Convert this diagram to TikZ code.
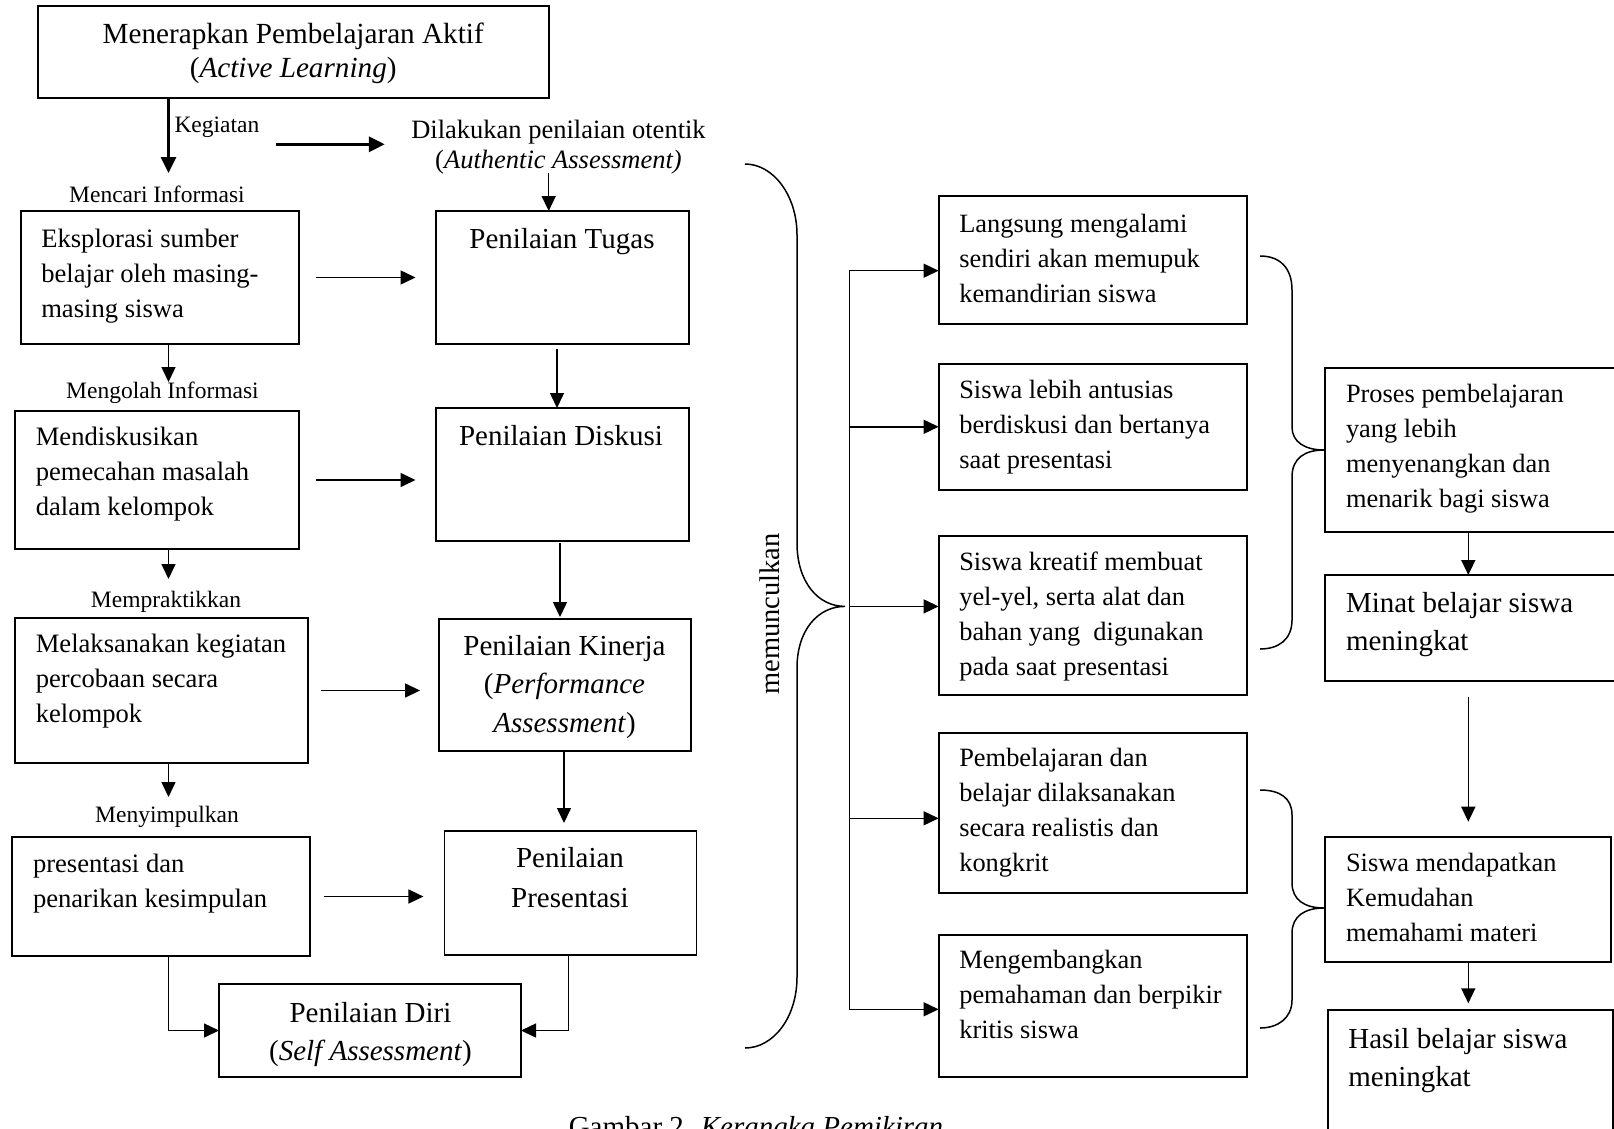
\documentclass[tikz,border=0pt]{standalone}
\usepackage{fontspec}
\setmainfont{Liberation Serif}
\usetikzlibrary{arrows.meta}
\newcommand{\Lt}[1]{\begin{tabular}[t]{@{}l@{}}#1\end{tabular}}
\newcommand{\Ct}[1]{\begin{tabular}[t]{@{}c@{}}#1\end{tabular}}
\newcommand{\fsz}[2]{\fontsize{#1}{#2}\selectfont}
\tikzset{
  box/.style={draw, line width=1.9pt, rectangle, inner sep=0pt, outer sep=0pt},
  txt/.style={inner sep=0pt, outer sep=0pt},
  arr/.style={line width=1.5pt, -{Triangle[length=15pt,width=14pt]}},
  thickarr/.style={line width=3.2pt, -{Triangle[length=16pt,width=15pt]}},
  bracestyle/.style={line width=1.5pt},
  lbl/.style={txt, anchor=base, font=\fsz{23.5}{28}},
  lefttxt/.style={txt, anchor=base west, font=\fsz{26.6}{35}},
  pentxt/.style={txt, anchor=base, font=\fsz{29}{38.5}},
  righttxt/.style={txt, anchor=base west, font=\fsz{26.4}{35}},
  bigtxt/.style={txt, anchor=base west, font=\fsz{29}{38}}
}
\begin{document}
\begin{tikzpicture}[x=1pt,y=-1pt]
\useasboundingbox (0,0) rectangle (1614,1128);
\fill[white] (0,0) rectangle (1614,1128);
\clip (0,0) rectangle (1614,1128);

% ---------- boxes ----------
\node[box, minimum width=511pt, minimum height=92pt] (top) at (293.2,52) {};
\node[box, minimum width=278.7pt, minimum height=133pt] (eks) at (160,277.5) {};
\node[box, minimum width=253pt, minimum height=133pt] (tugas) at (562.5,277.5) {};
\node[box, minimum width=284.7pt, minimum height=138pt] (mend) at (157,480) {};
\node[box, minimum width=253pt, minimum height=133pt] (disk) at (562.5,474.5) {};
\node[box, minimum width=292.9pt, minimum height=145pt] (mel) at (161.2,690.5) {};
\node[box, minimum width=252.5pt, minimum height=132pt] (kin) at (564.8,685) {};
\node[box, minimum width=297.6pt, minimum height=119pt] (pres) at (161.2,896.5) {};
\node[box, minimum width=252pt, minimum height=124pt] (penpres) at (570.5,893) {};
\node[box, minimum width=302pt, minimum height=93pt] (diri) at (370,1030.5) {};

\node[box, minimum width=308.2pt, minimum height=128.3pt] (lang) at (1092.7,259.85) {};
\node[box, minimum width=308.2pt, minimum height=126.4pt] (lebih) at (1092.7,426.8) {};
\node[box, minimum width=308.2pt, minimum height=158.9pt] (kreatif) at (1092.7,615.15) {};
\node[box, minimum width=308.2pt, minimum height=160pt] (pemb) at (1092.7,813.3) {};
\node[box, minimum width=308.2pt, minimum height=141.7pt] (meng) at (1092.7,1005.85) {};

\node[box, minimum width=315pt, minimum height=164pt] (proses) at (1482.5,449.7) {};
\node[box, minimum width=315pt, minimum height=105.7pt] (minat) at (1482.5,627.85) {};
\node[box, minimum width=286pt, minimum height=125pt] (mudah) at (1468,899.2) {};
\node[box, minimum width=285.6pt, minimum height=150pt] (hasil) at (1470.5,1085) {};

% ---------- texts ----------
\node[txt, anchor=base, font=\fsz{29.2}{34}] (toptxt) at (293.2,43)
  {\Ct{Menerapkan Pembelajaran Aktif\\(\textit{Active Learning})}};
\node[lbl, anchor=base west] (keg) at (174.5,132) {Kegiatan};
\node[txt, anchor=base, font=\fsz{26.5}{30}] (dil) at (558.5,138)
  {\Ct{Dilakukan penilaian otentik\\(\textit{Authentic Assessment)}}};
\node[lbl] (l1) at (157,202) {Mencari Informasi};
\node[lbl] (l2) at (162.5,398) {Mengolah Informasi};
\node[lbl] (l3) at (166,607) {Mempraktikkan};
\node[lbl] (l4) at (167,822) {Menyimpulkan};

\node[lefttxt] (ekst) at (41.3,247) {\Lt{Eksplorasi sumber\\belajar oleh masing-\\masing siswa}};
\node[lefttxt] (mendt) at (35.8,445) {\Lt{Mendiskusikan\\pemecahan masalah\\dalam kelompok}};
\node[lefttxt] (melt) at (35.8,652) {\Lt{Melaksanakan kegiatan\\percobaan secara\\kelompok}};
\node[lefttxt] (prest) at (33,872) {\Lt{presentasi dan\\penarikan kesimpulan}};

\node[pentxt] (tugast) at (562,248) {Penilaian Tugas};
\node[pentxt] (diskt) at (561,445) {Penilaian Diskusi};
\node[pentxt] (kint) at (564.5,655) {\Ct{Penilaian Kinerja\\(\textit{Performance}\\\textit{Assessment})}};
\node[txt, anchor=base, font=\fsz{29}{40}] (penprest) at (570,867) {\Ct{Penilaian\\Presentasi}};
\node[txt, anchor=base, font=\fsz{29}{38}] (dirit) at (370.5,1022) {\Ct{Penilaian Diri\\(\textit{Self Assessment})}};

\node[txt, rotate=90, anchor=base, font=\fsz{28.5}{30}] (mun) at (779,614) {memunculkan};

\node[righttxt] (langt) at (959.3,232) {\Lt{Langsung mengalami\\sendiri akan memupuk\\kemandirian siswa}};
\node[righttxt] (lebiht) at (959.3,398) {\Lt{Siswa lebih antusias\\berdiskusi dan bertanya\\saat presentasi}};
\node[righttxt] (kreatift) at (959.3,570) {\Lt{Siswa kreatif membuat\\yel-yel, serta alat dan\\bahan yang\ \ digunakan\\pada saat presentasi}};
\node[righttxt] (pembt) at (959.3,766.7) {\Lt{Pembelajaran dan\\belajar dilaksanakan\\secara realistis dan\\kongkrit}};
\node[righttxt] (mengt) at (959.3,968.3) {\Lt{Mengembangkan\\pemahaman dan berpikir\\kritis siswa}};

\node[righttxt] (prosest) at (1346,402.7) {\Lt{Proses pembelajaran\\yang lebih\\menyenangkan dan\\menarik bagi siswa}};
\node[bigtxt] (minatt) at (1346,612.7) {\Lt{Minat belajar siswa\\meningkat}};
\node[righttxt] (mudaht) at (1346,871.7) {\Lt{Siswa mendapatkan\\Kemudahan\\memahami materi}};
\node[bigtxt] (hasilt) at (1348.3,1048.3) {\Lt{Hasil belajar siswa\\meningkat}};

\node[txt, anchor=base, font=\fsz{29}{34}] (cap) at (756,1136) {Gambar 2. \textit{Kerangka Pemikiran}};

% ---------- coordinates ----------
\coordinate (colA) at (168.5,0);
\coordinate (kegtip) at (168.5,173);
\coordinate (tip2) at (168.5,382);
\coordinate (tip3) at (168.5,579);
\coordinate (tip4) at (168.5,797);
\coordinate (t1) at (276.4,144.3);
\coordinate (t2) at (384.8,144.3);
\coordinate (cAuth) at (548.7,173);
\coordinate (c1) at (557,0);
\coordinate (c2) at (560,0);
\coordinate (c3) at (564,0);
\coordinate (c4) at (568.4,0);
\coordinate (colR) at (1468.3,0);
\coordinate (s1) at (849.3,270.7);
\coordinate (s2) at (849.3,426.8);
\coordinate (s3) at (849.3,606.4);
\coordinate (s4) at (849.3,818.3);
\coordinate (s5) at (849.3,1009.3);

% ---------- connectors ----------
\draw[thickarr] (top.south -| kegtip) -- (kegtip);
\draw[thickarr] (t1) -- (t2);
\draw[arr] (cAuth) -- (cAuth |- tugas.north);

\draw[arr, shorten <=16.6pt, shorten >=20.5pt] (eks.east) -- (tugas.west);
\draw[arr, shorten <=16.6pt, shorten >=20.5pt] (mend.east) -- (mend.east -| disk.west);
\draw[arr, shorten <=12.9pt, shorten >=18.5pt] (mel.east) -- (mel.east -| kin.west);
\draw[arr, shorten <=13.7pt, shorten >=21.1pt] (pres.east) -- (pres.east -| penpres.west);

\draw[arr] (eks.south -| colA) -- (tip2);
\draw[arr] (mend.south -| colA) -- (tip3);
\draw[arr] (mel.south -| colA) -- (tip4);
\draw[arr] (pres.south -| colA) |- (diri.west);

\draw[arr, shorten <=5pt] (tugas.south -| c1) -- (disk.north -| c1);
\draw[arr, shorten <=2pt, shorten >=2pt] (disk.south -| c2) -- (kin.north -| c2);
\draw[arr, shorten >=8pt] (kin.south -| c3) -- (penpres.north -| c3);
\draw[arr] (penpres.south -| c4) |- (diri.east);

\draw[line width=1.5pt] (s1) -- (s5);
\draw[arr] (s1) -- (s1 -| lang.west);
\draw[arr] (s2) -- (s2 -| lebih.west);
\draw[arr] (s3) -- (s3 -| kreatif.west);
\draw[arr] (s4) -- (s4 -| pemb.west);
\draw[arr] (s5) -- (s5 -| meng.west);

\draw[arr] (proses.south -| colR) -- (minat.north -| colR);
\draw[arr, shorten <=16pt, shorten >=15pt] (minat.south -| colR) -- (mudah.north -| colR);
\draw[arr, shorten >=6.7pt] (mudah.south -| colR) -- (hasil.north -| colR);

% ---------- braces ----------
\draw[bracestyle] (745,164) .. controls (773,164) and (797,195) .. (797,235)
  -- (797,543) .. controls (797,582) and (818,606.4) .. (845,606.4)
  .. controls (818,606.4) and (797,630) .. (797,668)
  -- (797,977) .. controls (797,1018) and (773,1048) .. (745,1048);
\draw[bracestyle] (1260,256) .. controls (1280,256) and (1292,268) .. (1292,290)
  -- (1292,427) .. controls (1292,442) and (1305,450) .. (1324,450)
  .. controls (1305,450) and (1292,458) .. (1292,477)
  -- (1292,620) .. controls (1292,640) and (1278,649) .. (1260,649);
\draw[bracestyle] (1260,790) .. controls (1280,790) and (1292,798) .. (1292,815)
  -- (1292,883) .. controls (1292,900) and (1305,908) .. (1324,908)
  .. controls (1305,908) and (1292,916) .. (1292,933)
  -- (1292,1000) .. controls (1292,1018) and (1278,1028) .. (1260,1028);
\end{tikzpicture}
\end{document}
